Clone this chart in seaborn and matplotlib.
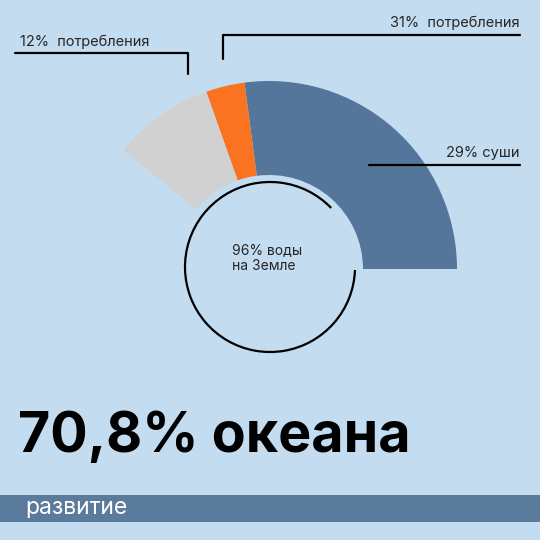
import matplotlib
matplotlib.use("Agg")
import matplotlib.pyplot as plt
import seaborn as sns
from matplotlib.patches import Wedge, Arc, Rectangle

# данные: угловые размеры сегментов (градусы), подписи
segments = ["суша", "потребление", "прочее"]
spans = [97.5, 12.0, 31.2]
colors = ["#53769a", "#fa7321", "#d1d1d1"]
labels = ["29% суши", "31%  потребления", "12%  потребления"]
center_text = "96% воды\nна Земле"
title = "70,8% океана"
footer = "развитие"

bg = "#c4dcf0"
sns.set_theme(style="white")
plt.rcParams["font.family"] = ["Inter", "DejaVu Sans"]

fig = plt.figure(figsize=(5.4, 5.4), dpi=100, facecolor=bg)
ax = fig.add_axes([0, 0, 1, 1])
ax.set_facecolor(bg)
ax.set_xlim(0, 540)
ax.set_ylim(540, 0)
ax.set_aspect("equal")
ax.axis("off")

# в перевёрнутой оси y углы идут по часовой, поэтому рисуем с минусом
cx, cy, R, r = 269, 269, 188, 94
start = 0.0
for span, col in zip(spans, colors):
    ax.add_patch(Wedge((cx, cy), R, -(start + span), -start, width=R - r,
                       facecolor=col, edgecolor="none"))
    start += span

# внутреннее кольцо с разрывом
ax.add_patch(Arc((270, 267), 170, 170, theta1=2, theta2=316,
                 color="black", lw=1.6))
ax.text(232, 258, center_text, fontsize=10, va="center", ha="left",
        linespacing=1.1)

# выноски
ax.plot([369, 520], [165, 165], color="black", lw=1.6)
ax.text(520, 160, labels[0], ha="right", va="bottom", fontsize=10.5)
ax.plot([223, 223, 520], [59, 35, 35], color="black", lw=1.6)
ax.text(520, 30, labels[1], ha="right", va="bottom", fontsize=10.5)
ax.plot([15, 188, 188], [53, 53, 74], color="black", lw=1.6)
ax.text(20, 49, labels[2], ha="left", va="bottom", fontsize=10.5)

ax.text(18, 437, title, fontsize=40, fontweight="bold", ha="left",
        va="center", color="black")

ax.add_patch(Rectangle((0, 495), 540, 27, facecolor="#5b7b9c",
                       edgecolor="none"))
ax.text(25, 508, footer, fontsize=16.5, color="white", va="center", ha="left")

fig.savefig("out.png", dpi=100, facecolor=bg)
